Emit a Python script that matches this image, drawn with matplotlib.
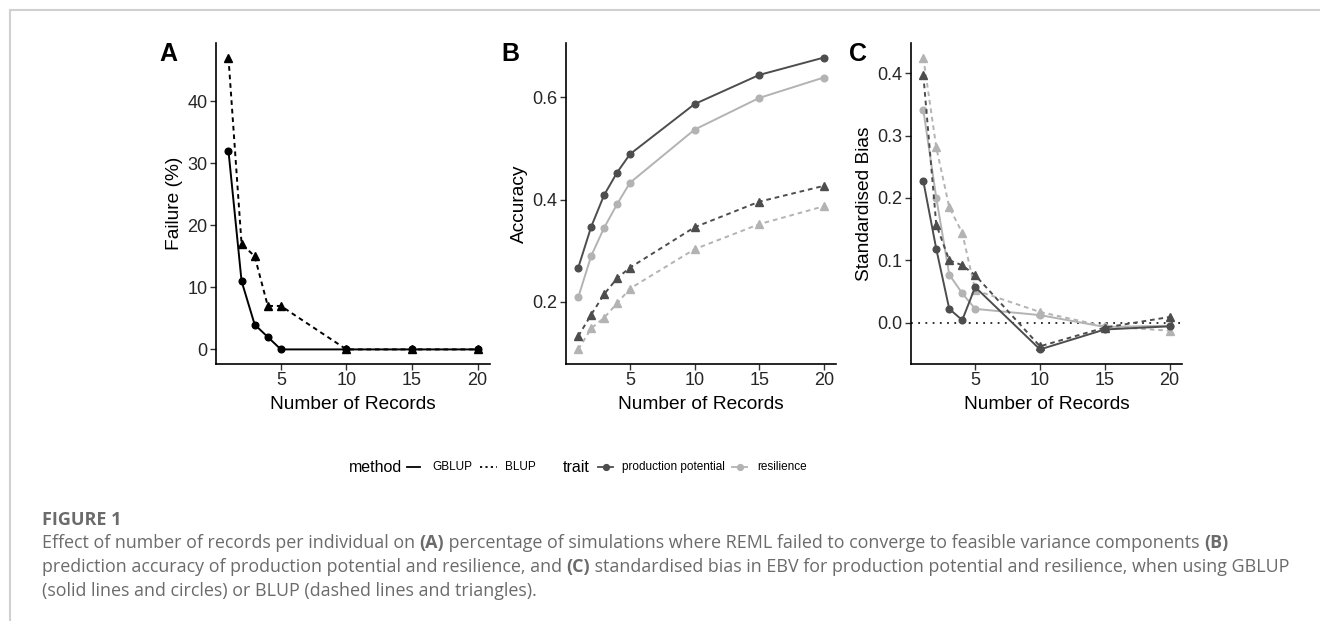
import matplotlib
matplotlib.use("Agg")
import matplotlib.pyplot as plt
from matplotlib.lines import Line2D

records = [1, 2, 3, 4, 5, 10, 15, 20]

# Panel A: failure (%)
fail_gblup = [32, 11, 4, 2, 0, 0, 0, 0]
fail_blup = [47, 17, 15, 7, 7, 0, 0, 0]

# Panel B: accuracy
acc_gblup_prod = [0.267, 0.347, 0.409, 0.453, 0.489, 0.587, 0.644, 0.678]
acc_gblup_res = [0.209, 0.290, 0.345, 0.391, 0.433, 0.537, 0.599, 0.639]
acc_blup_prod = [0.133, 0.175, 0.215, 0.246, 0.267, 0.346, 0.396, 0.427]
acc_blup_res = [0.107, 0.148, 0.169, 0.197, 0.226, 0.303, 0.352, 0.387]

# Panel C: standardised bias
bias_gblup_prod = [0.227, 0.118, 0.022, 0.004, 0.057, -0.043, -0.011, -0.006]
bias_gblup_res = [0.341, 0.200, 0.077, 0.047, 0.022, 0.012, -0.007, -0.005]
bias_blup_prod = [0.397, 0.157, 0.100, 0.092, 0.076, -0.038, -0.008, 0.009]
bias_blup_res = [0.425, 0.281, 0.185, 0.144, 0.052, 0.017, -0.006, -0.013]

xticks = [5, 10, 15, 20]
yticks_a = [0, 10, 20, 30, 40]
yticks_b = [0.2, 0.4, 0.6]
yticks_c = [0.0, 0.1, 0.2, 0.3, 0.4]
ytick_labels_b = ["0.2", "0.4", "0.6"]
ytick_labels_c = ["0.0", "0.1", "0.2", "0.3", "0.4"]

DARK = "#4d4d4d"
LIGHT = "#b3b3b3"
BLACK = "#000000"
DASH = (0, (2.4, 2.0))
LW = 1.4
MS_C = 4.8
MS_T = 5.4

W, H = 1320, 621
fig = plt.figure(figsize=(W / 100, H / 100), dpi=100)
plt.rcParams['font.family'] = ['Liberation Sans', 'DejaVu Sans']


def box(l, r, t=43, b=364):
    return [l / W, (H - b) / H, (r - l) / W, (b - t) / H]


def style(ax, ylabel):
    for s in ["top", "right"]:
        ax.spines[s].set_visible(False)
    for s in ["left", "bottom"]:
        ax.spines[s].set_linewidth(1.2)
        ax.spines[s].set_color("#000000")
    ax.tick_params(axis="both", length=4, width=1.0, color="#333333",
                   labelsize=13, labelcolor="#262626", pad=2)
    ax.set_xticks(xticks)
    ax.set_xlim(0.05, 20.95)
    ax.set_xlabel("Number of Records", fontsize=13.8, labelpad=4.5)
    ax.set_ylabel(ylabel, fontsize=13.8, labelpad=3)


def lims(ax, *series):
    vals = [v for s in series for v in s]
    lo, hi = min(vals), max(vals)
    pad = 0.05 * (hi - lo)
    ax.set_ylim(lo - pad, hi + pad)


# Panel A
axA = fig.add_axes(box(216, 490))
axA.plot(records, fail_gblup, color=BLACK, lw=LW, marker="o", ms=MS_C)
axA.plot(records, fail_blup, color=BLACK, lw=LW, ls=DASH, marker="^", ms=MS_T)
style(axA, "Failure (%)")
axA.set_yticks(yticks_a)
lims(axA, fail_gblup, fail_blup)

# Panel B
axB = fig.add_axes(box(566, 836))
axB.plot(records, acc_gblup_res, color=LIGHT, lw=LW, marker="o", ms=MS_C)
axB.plot(records, acc_blup_res, color=LIGHT, lw=LW, ls=DASH, marker="^", ms=MS_T)
axB.plot(records, acc_gblup_prod, color=DARK, lw=LW, marker="o", ms=MS_C)
axB.plot(records, acc_blup_prod, color=DARK, lw=LW, ls=DASH, marker="^", ms=MS_T)
style(axB, "Accuracy")
axB.set_yticks(yticks_b)
axB.set_yticklabels(ytick_labels_b)
lims(axB, acc_gblup_prod, acc_gblup_res, acc_blup_prod, acc_blup_res)

# Panel C
axC = fig.add_axes(box(911, 1182))
axC.axhline(0, color="#222222", lw=1.3, ls=(0, (1, 3)), zorder=1)
axC.plot(records, bias_gblup_res, color=LIGHT, lw=LW, marker="o", ms=MS_C)
axC.plot(records, bias_blup_res, color=LIGHT, lw=LW, ls=DASH, marker="^", ms=MS_T)
axC.plot(records, bias_gblup_prod, color=DARK, lw=LW, marker="o", ms=MS_C)
axC.plot(records, bias_blup_prod, color=DARK, lw=LW, ls=DASH, marker="^", ms=MS_T)
style(axC, "Standardised Bias")
axC.set_yticks(yticks_c)
axC.set_yticklabels(ytick_labels_c)
lims(axC, bias_gblup_prod, bias_gblup_res, bias_blup_prod, bias_blup_res)

# Panel letters
for letter, px in [("A", 168), ("B", 510), ("C", 858)]:
    fig.text(px / W, 1 - 54 / H, letter, fontsize=18, fontweight="bold",
             ha="center", va="center")

# Legend (manual)
ly = 1 - 467 / H
fig.text(349 / W, ly, "method", fontsize=11.5, ha="left", va="center")
fig.add_artist(Line2D([407 / W, 420 / W], [ly, ly], color=BLACK, lw=1.3))
fig.text(432 / W, ly, "GBLUP", fontsize=8.5, ha="left", va="center")
fig.add_artist(Line2D([480 / W, 497 / W], [ly, ly], color=BLACK, lw=1.3, ls=(0, (1.2, 1.8))))
fig.text(505 / W, ly, "BLUP", fontsize=8.5, ha="left", va="center")
fig.text(563 / W, ly, "trait", fontsize=11.5, ha="left", va="center")
fig.add_artist(Line2D([598 / W, 613 / W], [ly, ly], color=DARK, lw=1.3))
fig.add_artist(Line2D([605.5 / W], [ly], color=DARK, marker="o", ms=4.2, lw=0))
fig.text(622 / W, ly, "production potential", fontsize=8.5, ha="left", va="center")
fig.add_artist(Line2D([732 / W, 747 / W], [ly, ly], color=LIGHT, lw=1.3))
fig.add_artist(Line2D([739.5 / W], [ly], color=LIGHT, marker="o", ms=4.2, lw=0))
fig.text(757 / W, ly, "resilience", fontsize=8.5, ha="left", va="center")

# Frame lines
fig.add_artist(Line2D([9.5 / W, 1], [1 - 9.5 / H, 1 - 9.5 / H], color="#d0d0d0", lw=1.5))
fig.add_artist(Line2D([9.5 / W, 9.5 / W], [0, 1 - 9.5 / H], color="#d0d0d0", lw=1.5))

# Caption
CAP = "#6b6b6b"
fig.text(42 / W, 1 - 520 / H, "FIGURE 1", fontsize=13, fontweight="bold",
         color=CAP, family="Open Sans", ha="left", va="center")

cap_lines = [
    [("Effect of number of records per individual on ", False), ("(A)", True),
     (" percentage of simulations where REML failed to converge to feasible variance components ", False),
     ("(B)", True)],
    [("prediction accuracy of production potential and resilience, and ", False), ("(C)", True),
     (" standardised bias in EBV for production potential and resilience, when using GBLUP", False)],
    [("(solid lines and circles) or BLUP (dashed lines and triangles).", False)],
]
cap_y = [543, 567, 591]

fig.canvas.draw()
renderer = fig.canvas.get_renderer()
for line, yy in zip(cap_lines, cap_y):
    x = 42
    for txt, bold in line:
        t = fig.text(x / W, 1 - yy / H, txt, fontsize=12.9, color=CAP,
                     family="Open Sans", fontweight="bold" if bold else "normal",
                     ha="left", va="center")
        bb = t.get_window_extent(renderer)
        x += bb.width

fig.savefig("out.png", dpi=100)
